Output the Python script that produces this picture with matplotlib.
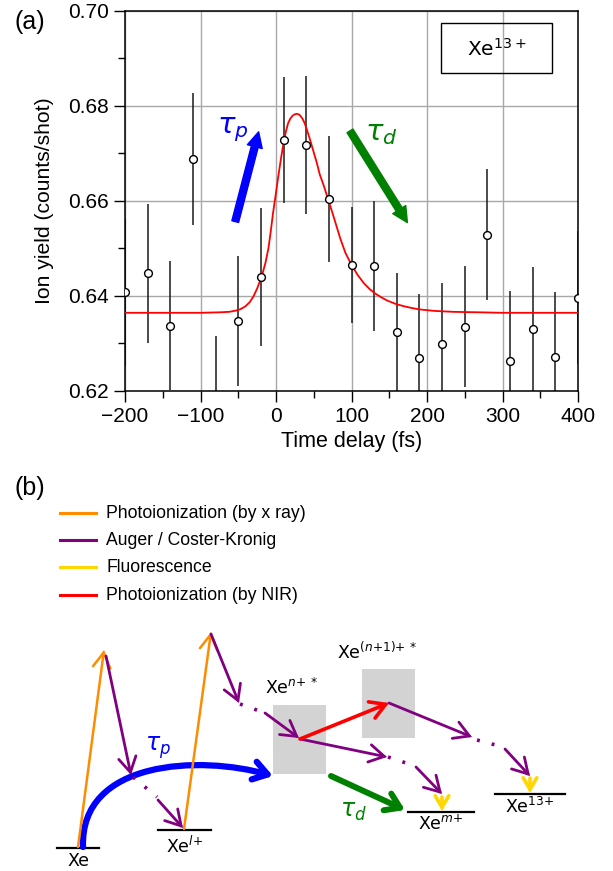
import numpy as np
import matplotlib
matplotlib.use("Agg")
import matplotlib.pyplot as plt
from matplotlib.patches import FancyArrowPatch, Rectangle
from matplotlib.path import Path
from matplotlib.ticker import MultipleLocator

plt.rcParams['font.family'] = ['Liberation Sans', 'DejaVu Sans']
plt.rcParams['mathtext.fontset'] = 'dejavusans'

# --- panel (a) data: delay scan of Xe13+ yield ---
delay = [-200, -170, -140, -110, -80, -50, -20, 10, 40, 70, 100,
         130, 160, 190, 220, 250, 280, 310, 340, 370, 400]
yield_ = [0.6407, 0.6447, 0.6337, 0.6688, 0.6180, 0.6347, 0.6439, 0.6728,
          0.6717, 0.6604, 0.6465, 0.6463, 0.6324, 0.6269, 0.6299, 0.6335,
          0.6528, 0.6262, 0.6330, 0.6271, 0.6396]
yerr = [0.0155, 0.0147, 0.0135, 0.0139, 0.0136, 0.0137, 0.0145, 0.0132,
        0.0146, 0.0133, 0.0122, 0.0137, 0.0124, 0.0135, 0.0127, 0.0128,
        0.0138, 0.0147, 0.0130, 0.0136, 0.0140]

# fit curve
fit_t = [-200, -100, -75, -62, -55, -48, -41, -35, -30, -25, -19, -14, -10,
         -7, -4, 0, 3, 7, 10, 13, 16, 19, 22, 25, 28, 31, 35, 38, 41, 45,
         49, 54, 58, 63, 67, 72, 76, 85, 92, 100, 108, 116, 124, 131, 139,
         147, 158, 169, 180, 191, 210, 235, 270, 300, 400]
fit_y = [0.6364, 0.6364, 0.6365, 0.6366, 0.6368, 0.6371, 0.6377, 0.6386,
         0.6398, 0.6415, 0.6440, 0.6469, 0.6500, 0.6535, 0.6573, 0.6617,
         0.6651, 0.6693, 0.6721, 0.6745, 0.6763, 0.6773, 0.6779, 0.6782,
         0.6783, 0.6781, 0.6773, 0.6763, 0.6749, 0.6729, 0.6707, 0.6680,
         0.6655, 0.6633, 0.6613, 0.6588, 0.6568, 0.6521, 0.6490, 0.6465,
         0.6444, 0.6427, 0.6414, 0.6405, 0.6397, 0.6390, 0.6383, 0.6378,
         0.6374, 0.6371, 0.6368, 0.6366, 0.6365, 0.6364, 0.6364]

fig = plt.figure(figsize=(6.13, 8.71), dpi=100)

ax = fig.add_axes([125/613, 1-390.7/871, 453/613, 380/871])
ax.grid(True, color='#a8a8a8', lw=1.0, zorder=0)
ax.set_axisbelow(True)
ax.errorbar(delay, yield_, yerr=yerr, fmt='none', ecolor='#1a1a1a',
            elinewidth=1.1, capsize=0, zorder=2)
ax.plot(fit_t, fit_y, color='red', lw=1.3, zorder=3)
ax.plot(delay, yield_, 'o', ms=5.6, mfc='white', mec='black', mew=1.0,
        zorder=4)
ax.set_xlim(-200, 400)
ax.set_ylim(0.62, 0.70)
ax.xaxis.set_major_locator(MultipleLocator(100))
ax.xaxis.set_minor_locator(MultipleLocator(50))
ax.yaxis.set_major_locator(MultipleLocator(0.02))
ax.yaxis.set_minor_locator(MultipleLocator(0.01))
ax.tick_params(which='major', direction='out', length=8, width=1,
               labelsize=15)
ax.tick_params(which='minor', direction='out', length=5, width=1)
ax.set_xlabel('Time delay (fs)', fontsize=15.5, labelpad=4)
ax.set_ylabel('Ion yield (counts/shot)', fontsize=15.2, labelpad=10)
for s in ax.spines.values():
    s.set_linewidth(1.1)

ax.annotate('', xy=(-23, 0.6745), xytext=(-54, 0.6556),
            arrowprops=dict(arrowstyle='simple,head_width=1.1,head_length=1.1,tail_width=0.5',
                            mutation_scale=10, color='blue', shrinkA=0, shrinkB=0))
ax.annotate('', xy=(174, 0.6554), xytext=(98, 0.6747),
            arrowprops=dict(arrowstyle='simple,head_width=1.1,head_length=1.1,tail_width=0.5',
                            mutation_scale=10, color='green', shrinkA=0, shrinkB=0))
ax.text(-57, 0.6750, r'$\tau_p$', color='blue', fontsize=21,
        ha='center', va='center', family='DejaVu Sans')
ax.text(140, 0.6742, r'$\tau_d$', color='green', fontsize=21,
        ha='center', va='center', family='DejaVu Sans')

ax.add_patch(Rectangle((0.697, 0.835), 0.245, 0.133, transform=ax.transAxes,
                       fill=False, ec='black', lw=1.0, zorder=5))
ax.text(0.8195, 0.9, r'Xe$^{13+}$', transform=ax.transAxes, fontsize=14.5,
        ha='center', va='center', family='DejaVu Sans', zorder=6)

fig.text(30/613, 1-22/871, '(a)', fontsize=18, ha='center', va='center')

# --- panel (b): schematic, pixel coordinates (y down) ---
dg = fig.add_axes([0, 0, 1, 411/871])
dg.set_xlim(0, 613)
dg.set_ylim(871, 460)
dg.axis('off')

dg.text(30, 488, '(b)', fontsize=18, ha='center', va='center')

legend_items = ['Photoionization (by x ray)', 'Auger / Coster-Kronig',
                'Fluorescence', 'Photoionization (by NIR)']
legend_colors = ['#ff8c00', '#800080', '#ffd700', '#ff0000']
legend_rows = [513, 540, 567, 595]
for txt, c, yy in zip(legend_items, legend_colors, legend_rows):
    dg.plot([60, 96], [yy, yy], color=c, lw=2.2)
    dg.text(106, yy, txt, fontsize=12.7, va='center', ha='left')

ORANGE, PURPLE, YELLOW = '#ff8c00', '#800080', '#ffd700'

levels = [  # x0, x1, y, label, label y
    (57, 99, 848, 'Xe', 861),
    (158, 211, 830, r'Xe$^{l{+}}$', 846),
    (408, 474, 812, r'Xe$^{m{+}}$', 824),
    (495, 565, 794, r'Xe$^{13{+}}$', 807),
]
for x0, x1, yy, lab, ly in levels:
    dg.plot([x0, x1], [yy, yy], color='black', lw=1.6)
    dg.text((x0+x1)/2, ly, lab, fontsize=12.5, ha='center', va='center',
            family='DejaVu Sans')

boxes = [  # x0, y0, x1, y1, label, label x, label y
    (273, 705, 326, 774, r'Xe$^{n{+}\,*}$', 265, 688),
    (362, 669, 415, 738, r'Xe$^{(n{+}1){+}\,*}$', 337, 652),
]
for x0, y0, x1, y1, lab, lx, ly in boxes:
    dg.add_patch(Rectangle((x0, y0), x1-x0, y1-y0, color='#d3d3d3', lw=0,
                           zorder=1))
    dg.text(lx, ly, lab, fontsize=12.5, ha='left', va='center',
            family='DejaVu Sans')


def arrow(p0, p1, color, lw=1.8, ms=18):
    dg.add_patch(FancyArrowPatch(p0, p1, arrowstyle='->,head_length=0.6,head_width=0.35',
                                 mutation_scale=ms, color=color, lw=lw,
                                 shrinkA=0, shrinkB=0, zorder=3,
                                 capstyle='round', joinstyle='miter'))


def dots(p0, p1, color=PURPLE):
    dg.plot([p0[0], p1[0]], [p0[1], p1[1]], color=color, lw=2.6,
            ls=(0, (0.8, 3.4)), zorder=3)


xray = [((78, 847), (104, 650)), ((184, 829), (211, 632))]
auger = [((106, 656), (131, 775)), ((158, 800), (183, 828)),
         ((211, 634), (239, 703)), ((265, 713), (299, 738)),
         ((300, 739), (387, 757)), ((416, 767), (442, 794)),
         ((389, 703), (472, 737)), ((505, 749), (530, 776))]
auger_dots = [((133, 777), (157, 797)), ((240, 704), (265, 713)),
              ((388, 757), (415, 766)), ((477, 740), (503, 747))]
fluo = [((530, 778), (530, 793)), ((442, 797), (442, 811))]
nir = [((300, 739), (389, 703))]

for p0, p1 in xray:
    arrow(p0, p1, ORANGE)
for p0, p1 in auger:
    arrow(p0, p1, PURPLE, lw=2.0)
for p0, p1 in auger_dots:
    dots(p0, p1)
for p0, p1 in fluo:
    arrow(p0, p1, YELLOW, lw=2.6, ms=14)
for p0, p1 in nir:
    arrow(p0, p1, 'red', lw=2.6)

# tau_p: curved blue, tau_d: green
blue_path = Path([(83, 847), (80, 760), (200, 755), (273, 776)],
                 [Path.MOVETO, Path.CURVE4, Path.CURVE4, Path.CURVE4])
dg.add_patch(FancyArrowPatch(path=blue_path,
                             arrowstyle='->,head_length=0.5,head_width=0.33',
                             mutation_scale=20, color='blue', lw=4.5,
                             zorder=2, capstyle='round'))
dg.add_patch(FancyArrowPatch((331, 776), (405, 810),
                             arrowstyle='->,head_length=0.5,head_width=0.33',
                             mutation_scale=20, color='green', lw=4.3,
                             shrinkA=0, shrinkB=0, zorder=2, capstyle='round'))
dg.text(158, 748, r'$\tau_p$', color='blue', fontsize=17, ha='center',
        va='center', family='DejaVu Sans')
dg.text(353, 811, r'$\tau_d$', color='green', fontsize=17, ha='center',
        va='center', family='DejaVu Sans')

fig.savefig('out.png', dpi=100)
